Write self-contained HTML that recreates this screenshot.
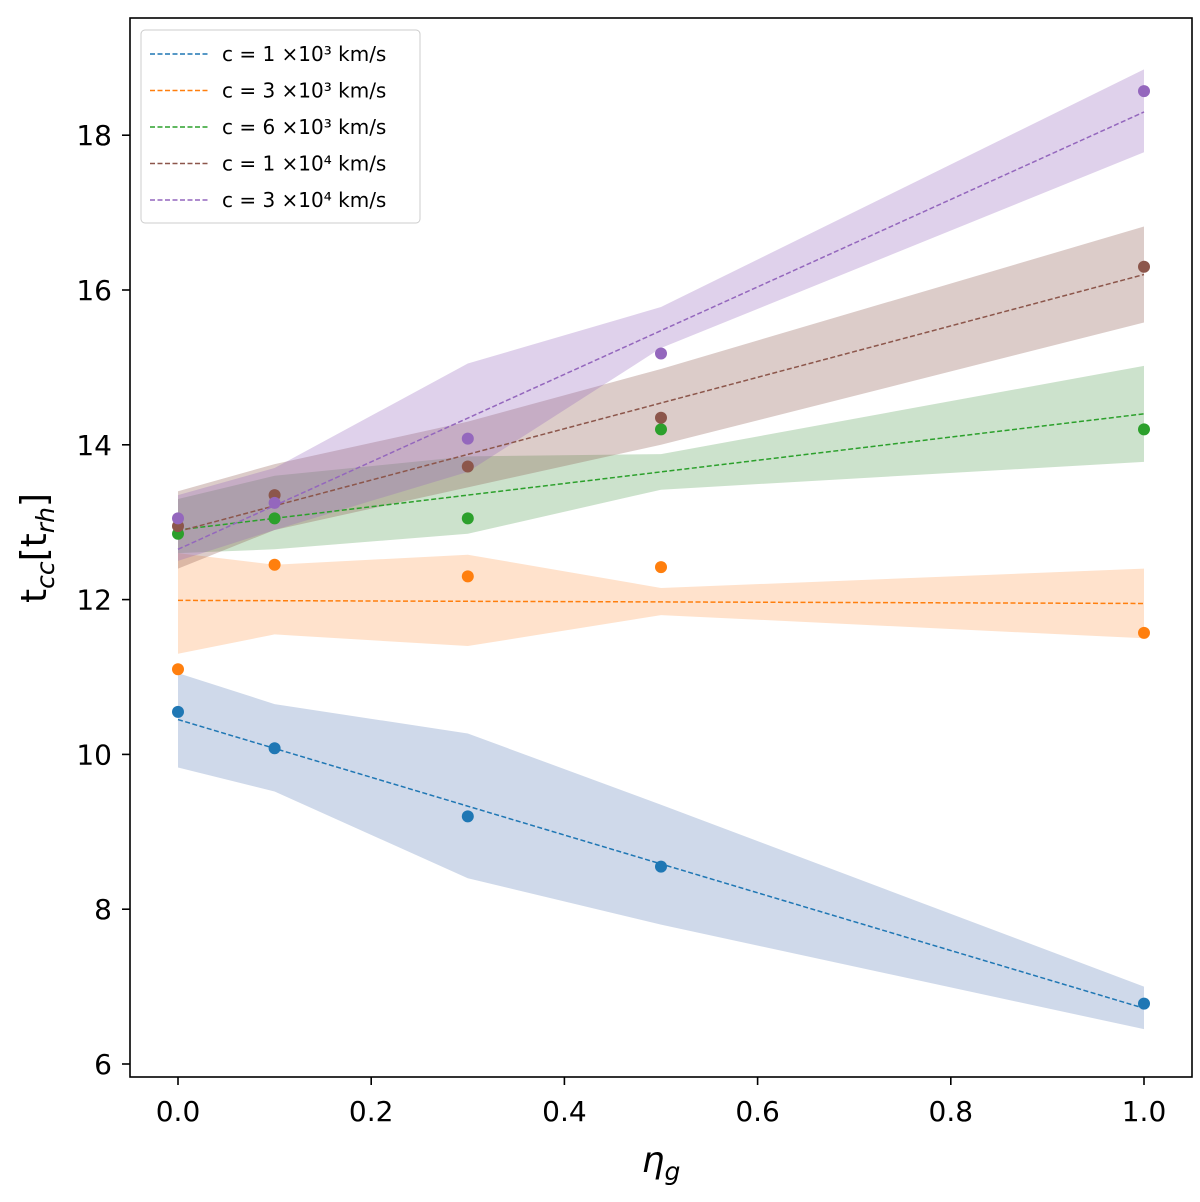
<!DOCTYPE html>
<html><head><meta charset="utf-8"><style>
body{margin:0;background:#fff}
text{font-family:"DejaVu Sans","Liberation Sans",sans-serif;fill:#000}
</style></head><body>
<svg id="chart" width="1200" height="1197" xmlns="http://www.w3.org/2000/svg">
<g id="bands"></g><g id="lines"></g><g id="pts"></g>
<rect x="130" y="18" width="1062" height="1059" fill="none" stroke="#000" stroke-width="1.6"/>
<g id="axes"></g>
<text x="661" y="1172" font-size="36" text-anchor="middle" font-style="italic">η<tspan font-size="25" dy="8">g</tspan></text>
<text transform="translate(46,548) rotate(-90)" font-size="36" text-anchor="middle">t<tspan font-size="25" dy="8" font-style="italic">cc</tspan><tspan dy="-8">[t</tspan><tspan font-size="25" dy="8" font-style="italic">rh</tspan><tspan dy="-8">]</tspan></text>
<g id="legend"></g>
</svg>
<script>
const xs=[0,0.1,0.3,0.5,1.0];
const labels=["1 ×10³","3 ×10³","6 ×10³","1 ×10⁴","3 ×10⁴"];
const colors=["#1f77b4","#ff7f0e","#2ca02c","#8c564b","#9467bd"];
const bandColors=["#4c72b0","#ff9f55","#55a055","#8c564b","#9467bd"];
const points=[[10.55,10.08,9.2,8.55,6.78],[11.1,12.45,12.3,12.42,11.57],[12.85,13.05,13.05,14.2,14.2],[12.95,13.35,13.72,14.35,16.3],[13.05,13.25,14.08,15.18,18.57]];
const fitStart=[10.45,11.99,12.9,12.88,12.65];
const fitEnd=[6.72,11.95,14.4,16.2,18.3];
const upper=[[11.05,10.65,10.27,9.35,7.0],[12.6,12.45,12.58,12.15,12.4],[13.3,13.6,13.85,13.88,15.02],[13.4,13.75,14.3,14.98,16.82],[13.35,13.7,15.05,15.78,18.85]];
const lower=[[9.83,9.52,8.4,7.8,6.45],[11.3,11.55,11.4,11.8,11.5],[12.6,12.65,12.85,13.42,13.78],[12.4,12.9,13.45,14.0,15.58],[12.5,12.9,13.65,15.25,17.78]];
const xTicks=[0,0.2,0.4,0.6,0.8,1.0];
const yTicks=[6,8,10,12,14,16,18];
const X=v=>178+v*966, Y=v=>1064-(v-6)*77.4;
const NS="http://www.w3.org/2000/svg";
function mk(t,p,a){const e=document.createElementNS(NS,t);for(const k in a)e.setAttribute(k,a[k]);document.getElementById(p).appendChild(e);return e;}
points.forEach((s,i)=>{
 const up=xs.map((x,j)=>X(x)+','+Y(upper[i][j])).join(' ');
 const lo=xs.map((x,j)=>X(x)+','+Y(lower[i][j])).reverse().join(' ');
 const b=mk('polygon','bands',{points:up+' '+lo,fill:bandColors[i],'fill-opacity':i==0?0.27:0.3});
 
 
 const l=mk('line','lines',{x1:X(0),y1:Y(fitStart[i]),x2:X(1),y2:Y(fitEnd[i]),stroke:colors[i],'stroke-width':1.5,'stroke-dasharray':'5,2.5'});
 
 
 s.forEach((v,j)=>{const c=mk('circle','pts',{cx:X(xs[j]),cy:Y(v),r:6,fill:colors[i]});
  
  });
});
xTicks.forEach(t=>{const l=mk('line','axes',{x1:X(t),x2:X(t),y1:1077,y2:1085,stroke:'#000','stroke-width':1.6});
 
 
 const tx=mk('text','axes',{x:X(t),y:1121,'font-size':28,'text-anchor':'middle'});tx.textContent=t.toFixed(1);
 
 });
yTicks.forEach(t=>{const l=mk('line','axes',{x1:122,x2:130,y1:Y(t),y2:Y(t),stroke:'#000','stroke-width':1.6});
 
 
 const tx=mk('text','axes',{x:112,y:Y(t)+10,'font-size':28,'text-anchor':'end'});tx.textContent=t;
 
 });
const bx=mk('rect','legend',{x:141,y:30,width:279,height:193,rx:4,fill:'#fff','fill-opacity':0.85,stroke:'#ccc'});


labels.forEach((s,i)=>{const y=54+i*36.5;
 const l=mk('line','legend',{x1:150,x2:208,y1:y,y2:y,stroke:colors[i],'stroke-width':1.5,'stroke-dasharray':'5,2.5'});
 
 
 const t=mk('text','legend',{x:222,y:y+7,'font-size':20});t.textContent='c = '+s+' km/s';
 
 });
</script>
</body></html>
